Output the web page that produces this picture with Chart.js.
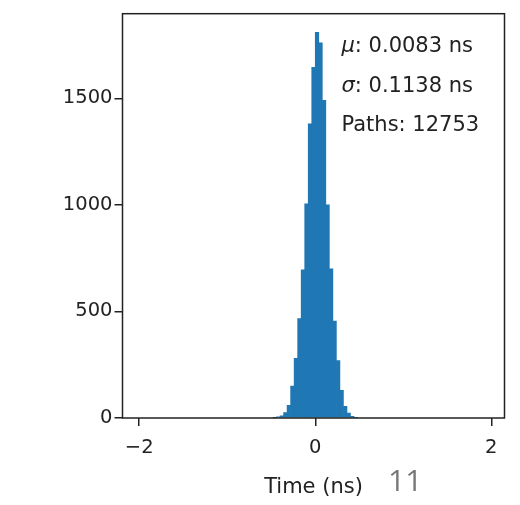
<!DOCTYPE html>
<html>
<head>
<meta charset="utf-8">
<script src="https://cdn.jsdelivr.net/npm/chart.js@4.4.1/dist/chart.umd.min.js"></script>
<style>
  html, body { margin: 0; padding: 0; background: #fff; }
  canvas { display: block; }
</style>
</head>
<body>
<canvas id="hist" width="520" height="505"></canvas>
<script>
// histogram of path time offsets, bin width 0.04 ns
const binCenters = [
  -0.46, -0.42, -0.38, -0.34, -0.30, -0.26, -0.22, -0.18, -0.14, -0.10, -0.06, -0.02,
   0.02,  0.06,  0.10,  0.14,  0.18,  0.22,  0.26,  0.30,  0.34,  0.38,  0.42,  0.46
];
const counts = [
  2, 5, 10, 25, 60, 150, 280, 467, 695, 1005, 1380, 1645,
  1810, 1760, 1490, 1000, 700, 455, 270, 130, 55, 23, 8, 3
];
const xTicks = [-2, 0, 2];
const yTicks = [0, 500, 1000, 1500];
const xRange = [-2.19, 2.15];
const yRange = [0, 1897];
const statLines = [
  { sym: "μ", text: ": 0.0083 ns" },
  { sym: "σ", text: ": 0.1138 ns" },
  { sym: "", text: "Paths: 12753" }
];
const xLabel = "Time (ns)";
const pageNumber = "11";

const INK = "#222";
const FONT = "'DejaVu Sans', sans-serif";

// frame round the plot + the stats box + slide number
const extras = {
  id: "extras",
  afterDatasetsDraw(chart) {
    const { ctx, chartArea: a } = chart;
    ctx.save();
    ctx.strokeStyle = INK;
    ctx.lineWidth = 1.5;
    ctx.strokeRect(a.left, a.top, a.right - a.left, a.bottom - a.top);

    ctx.textBaseline = "middle";
    ctx.fillStyle = INK;
    let x0 = a.left + 219;
    statLines.forEach((l, i) => {
      const y = a.top + 33 + i * 39.5;
      let x = x0;
      if (l.sym) {
        ctx.font = "italic 21px " + FONT;
        ctx.fillText(l.sym, x, y);
        x += ctx.measureText(l.sym).width;
      }
      ctx.font = "21px " + FONT;
      ctx.fillText(l.text, x, y);
    });

    ctx.fillStyle = "#777";
    ctx.font = "30px 'Open Sans', sans-serif";
    ctx.fillText(pageNumber, 388, 482);
    ctx.restore();
  }
};

new Chart(document.getElementById("hist"), {
  type: "bar",
  data: {
    datasets: [{
      data: binCenters.map((c, i) => ({ x: c, y: counts[i] })),
      backgroundColor: "#1f77b4",
      borderWidth: 0,
      barPercentage: 1,
      categoryPercentage: 1
    }]
  },
  options: {
    responsive: false,
    animation: false,
    layout: { padding: { top: 12, right: 15.5, left: 0, bottom: 0 } },
    plugins: { legend: { display: false }, tooltip: { enabled: false } },
    scales: {
      x: {
        type: "linear",
        offset: false,
        min: xRange[0],
        max: xRange[1],
        afterBuildTicks: (s) => { s.ticks = xTicks.map((v) => ({ value: v })); },
        afterFit: (s) => { s.height = 87; },
        border: { display: false },
        grid: { offset: false, drawOnChartArea: false, drawTicks: true, tickLength: 8, color: INK, lineWidth: 1.5 },
        ticks: {
          color: INK,
          font: { family: FONT, size: 19.5 },
          padding: 10,
          maxRotation: 0,
          callback: (v) => (v < 0 ? "\u2212" + Math.abs(v) : String(v))
        },
        title: {
          display: true,
          text: xLabel,
          color: INK,
          font: { family: FONT, size: 21 },
          padding: { top: 0, bottom: 5 }
        }
      },
      y: {
        min: yRange[0],
        max: yRange[1],
        afterBuildTicks: (s) => { s.ticks = yTicks.map((v) => ({ value: v })); },
        afterFit: (s) => { s.width = 122.5; },
        border: { display: false },
        grid: { drawOnChartArea: false, drawTicks: true, tickLength: 8, color: INK, lineWidth: 1.5 },
        ticks: {
          color: INK,
          font: { family: FONT, size: 19.5 },
          padding: 2,
          callback: (v) => String(v)
        }
      }
    }
  },
  plugins: [extras]
});
</script>
</body>
</html>
